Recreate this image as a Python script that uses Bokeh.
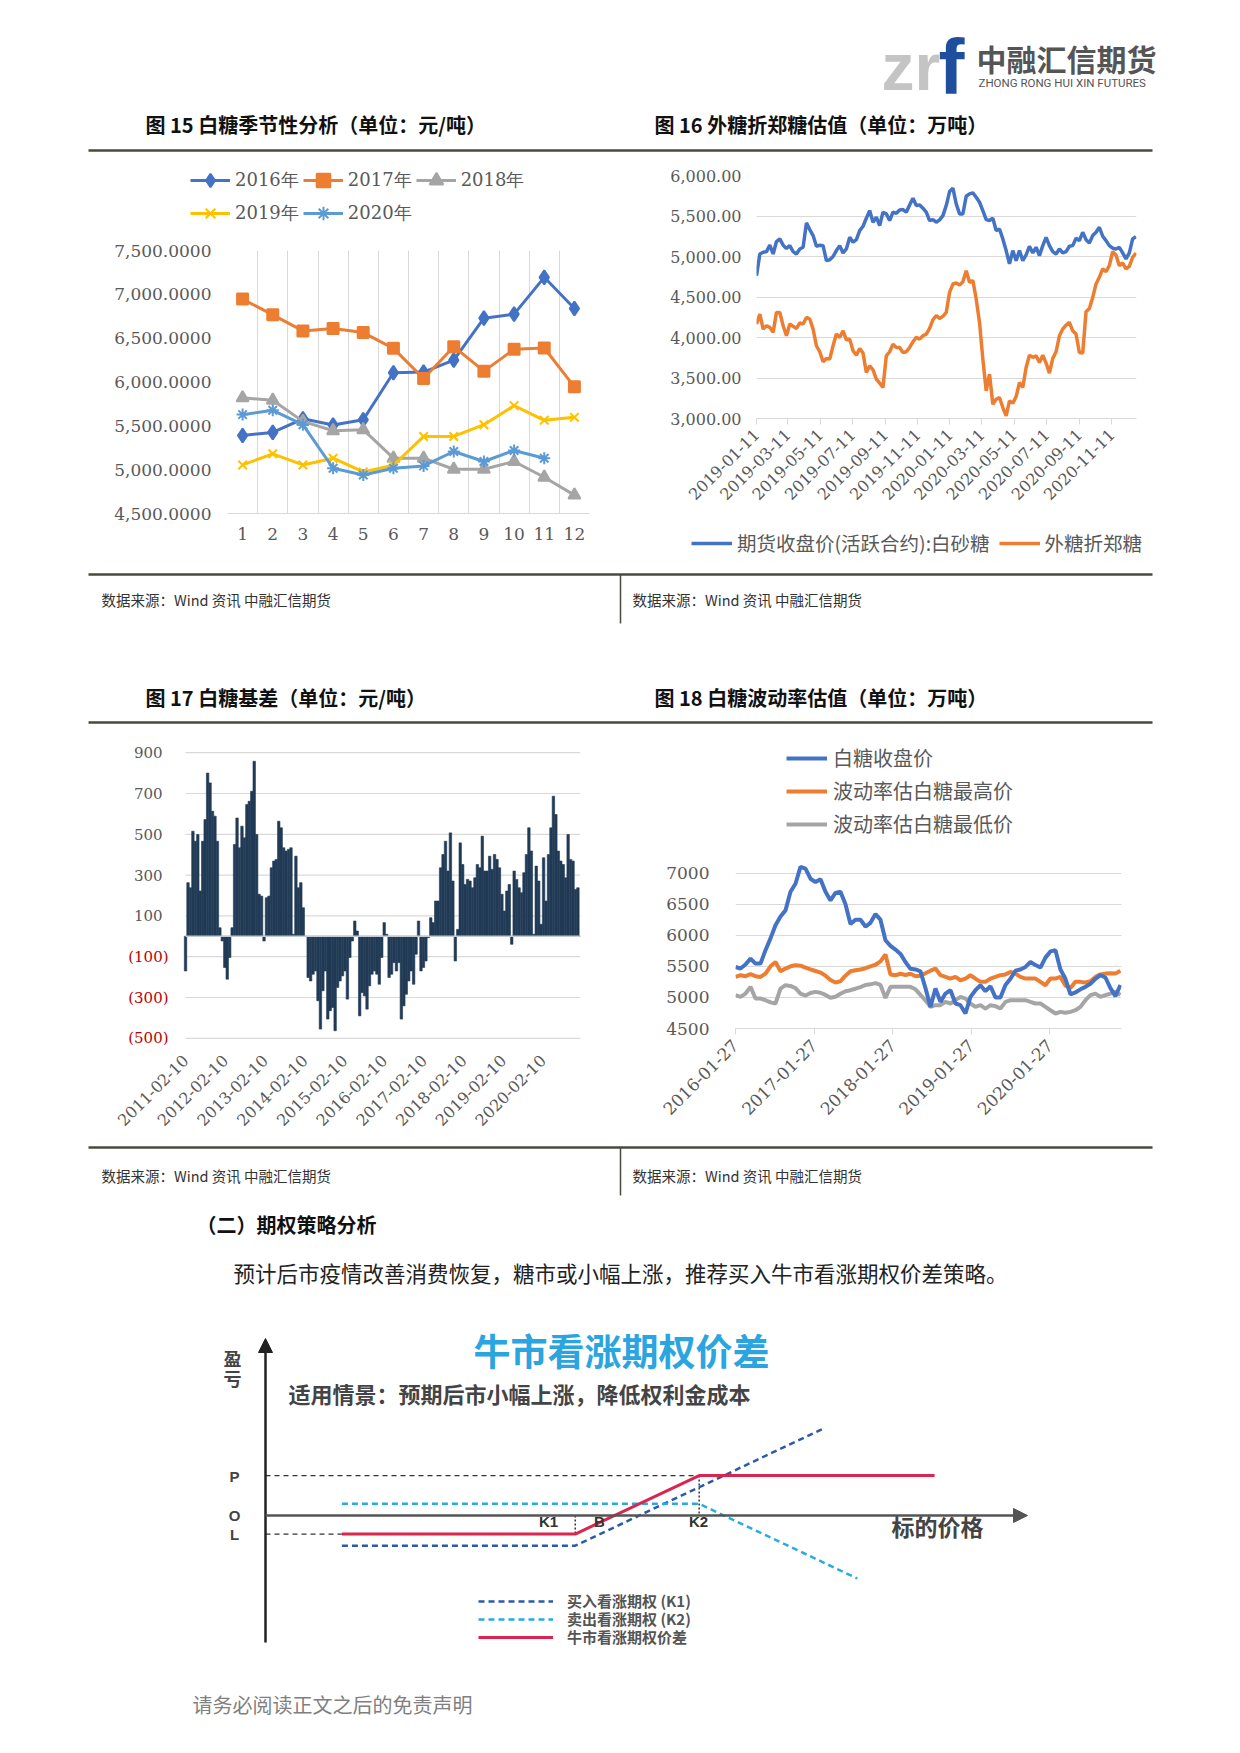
import math
import pandas as pd
from bokeh.plotting import figure
from bokeh.layouts import column, row
from bokeh.models import (Range1d, Label, Legend, LegendItem, FixedTicker,
                          NumeralTickFormatter, DatetimeTickFormatter,
                          Arrow, NormalHead)
from bokeh.core.properties import value
from bokeh.embed import file_html
from bokeh.resources import INLINE

# ---------------- data ----------------
TITLE15 = "图 15  白糖季节性分析（单位：元/吨）"
TITLE16 = "图 16  外糖折郑糖估值（单位：万吨）"
TITLE17 = "图 17  白糖基差（单位：元/吨）"
TITLE18 = "图 18  白糖波动率估值（单位：万吨）"
SOURCE = "数据来源：Wind 资讯  中融汇信期货"

MONTHS = [1, 2, 3, 4, 5, 6, 7, 8, 9, 10, 11, 12]
S2016 = [5390, 5425, 5580, 5510, 5570, 6105, 6113, 6250, 6728, 6774, 7194, 6839]
S2017 = [6946, 6766, 6583, 6610, 6564, 6384, 6040, 6403, 6124, 6373, 6388, 5945]
S2018 = [5819, 5792, 5551, 5444, 5456, 5131, 5131, 5005, 5005, 5093, 4913, 4710]
S2019 = [5054, 5181, 5054, 5131, 4975, 5050, 5379, 5379, 5513, 5731, 5563, 5597]
S2020 = [5628, 5677, 5513, 5016, 4940, 5016, 5043, 5207, 5093, 5219, 5131]
Y15_TICKS = [4500, 5000, 5500, 6000, 6500, 7000, 7500]

D16_FIRST, D16_LAST = "2019-01-11", "2020-12-27"
FUT16 = [4763, 5031, 5052, 5060, 5140, 5031, 5185, 5217, 5140, 5100,
         5134, 5060, 5031, 5093, 5114, 5415, 5332, 5258, 5126, 5140,
         5134, 4949, 4960, 5000, 5073, 5134, 5044, 5093, 5237, 5176,
         5208, 5320, 5373, 5472, 5567, 5423, 5485, 5382, 5547, 5526,
         5444, 5547, 5534, 5575, 5580, 5547, 5637, 5720, 5629, 5637,
         5596, 5547, 5444, 5456, 5423, 5452, 5505, 5629, 5802, 5843,
         5650, 5526, 5526, 5744, 5773, 5786, 5732, 5670, 5567, 5456,
         5444, 5472, 5320, 5340, 5217, 5073, 4908, 5073, 4949, 5073,
         4949, 5019, 5126, 5044, 5114, 5011, 5134, 5237, 5134, 5060,
         5031, 5093, 5044, 5060, 5126, 5134, 5225, 5196, 5299, 5208,
         5167, 5258, 5299, 5361, 5250, 5196, 5134, 5102, 5093, 5114,
         5044, 4970, 5044, 5217, 5246]
IMP16 = [4166, 4290, 4104, 4145, 4125, 4063, 4310, 4310, 4145, 4021,
         4166, 4138, 4112, 4180, 4166, 4248, 4228, 4104, 3898, 3824,
         3700, 3741, 3733, 3898, 4042, 4001, 4083, 3972, 3980, 3836,
         3782, 3865, 3807, 3568, 3650, 3601, 3486, 3436, 3383, 3774,
         3824, 3918, 3877, 3877, 3815, 3824, 3877, 3947, 4001, 3980,
         4021, 4042, 4112, 4219, 4269, 4236, 4261, 4310, 4557, 4660,
         4673, 4648, 4689, 4825, 4681, 4702, 4475, 4186, 3733, 3341,
         3547, 3176, 3238, 3259, 3135, 3032, 3218, 3189, 3271, 3444,
         3383, 3630, 3782, 3754, 3774, 3692, 3782, 3683, 3560, 3741,
         3824, 4021, 4104, 4153, 4186, 4083, 4042, 3815, 3807, 4318,
         4359, 4495, 4660, 4743, 4846, 4813, 4887, 5060, 5019, 4887,
         4920, 4846, 4879, 4990, 5044]
TICKS16 = ["2019-01-11", "2019-03-11", "2019-05-11", "2019-07-11", "2019-09-11",
           "2019-11-11", "2020-01-11", "2020-03-11", "2020-05-11", "2020-07-11",
           "2020-09-11", "2020-11-11"]
Y16_TICKS = [3000, 3500, 4000, 4500, 5000, 5500, 6000]
LEG16 = ["期货收盘价(活跃合约):白砂糖", "外糖折郑糖"]

D17_FIRST, D17_LAST = "2011-02-10", "2021-01-19"
BASIS17 = [-170, 263, 238, 515, 466, 499, 222, 466, 572, 800,
           752, 613, 589, 466, 42, -23, -153, -210, -104, 42,
           450, 580, 434, 540, 483, 646, 662, 711, 858, 499,
           206, 197, -23, 189, 197, 336, 369, 377, 564, 532,
           434, 418, 426, 434, 10, 393, 238, 263, 140, 0,
           -202, -219, -186, -170, -316, -455, -267, -170, -406, -365,
           -349, -463, -251, -219, -194, -170, -308, -104, -23, 75,
           26, -390, -276, -292, -357, -243, -186, -170, -186, -235,
           -104, 67, 10, -202, -186, -129, -170, -129, -406, -341,
           -284, -219, -170, -235, -88, 75, -170, -153, -121, -7,
           91, 67, 173, 173, 336, 401, 466, 320, 507, 271,
           -121, 34, 458, 352, 254, 279, 271, 238, 287, 352,
           336, 491, 320, 320, 393, 328, 401, 377, 336, 206,
           124, 222, 254, -39, 320, 279, 238, 214, 312, 401,
           532, 418, 10, 344, 271, 59, 385, 173, 401, 532,
           687, 597, 418, 369, 352, 287, 499, 377, 369, 230,
           238, 0]
TICKS17 = ["2011-02-10", "2012-02-10", "2013-02-10", "2014-02-10", "2015-02-10",
           "2016-02-10", "2017-02-10", "2018-02-10", "2019-02-10", "2020-02-10"]
Y17_TICKS = [-500, -300, -100, 100, 300, 500, 700, 900]

D18_FIRST, D18_LAST = "2016-01-27", "2020-12-20"
CLOSE18 = [5490, 5464, 5530, 5624, 5544, 5544, 5760, 5950, 6160, 6300,
           6400, 6700, 6829, 7100, 7070, 6909, 6855, 6900, 6700, 6560,
           6680, 6700, 6500, 6180, 6250, 6250, 6140, 6200, 6340, 6250,
           5920, 5830, 5770, 5700, 5570, 5460, 5450, 5420, 5150, 4848,
           5143, 4928, 5062, 5116, 4902, 4875, 4741, 5009, 5116, 5196,
           5100, 5180, 5000, 5000, 5200, 5300, 5430, 5450, 5490, 5570,
           5520, 5480, 5640, 5740, 5760, 5450, 5300, 5050, 5080, 5130,
           5170, 5220, 5300, 5357, 5320, 5150, 5020, 5200]
HIGH18 = [5330, 5357, 5341, 5373, 5341, 5330, 5383, 5500, 5571, 5420,
          5464, 5500, 5517, 5510, 5480, 5450, 5425, 5400, 5350, 5280,
          5240, 5260, 5350, 5420, 5437, 5450, 5470, 5500, 5525, 5580,
          5690, 5370, 5357, 5380, 5360, 5380, 5340, 5350, 5390, 5430,
          5464, 5357, 5330, 5303, 5330, 5276, 5303, 5357, 5303, 5250,
          5250, 5303, 5330, 5357, 5370, 5410, 5383, 5330, 5303, 5303,
          5303, 5250, 5196, 5303, 5303, 5330, 5190, 5150, 5250, 5250,
          5240, 5260, 5330, 5370, 5383, 5390, 5383, 5430]
LOW18 = [5036, 5009, 5062, 5170, 4982, 4982, 4955, 4920, 4902, 5140,
         5196, 5185, 5150, 5060, 5030, 5070, 5089, 5075, 5040, 4995,
         5010, 5060, 5100, 5116, 5140, 5165, 5200, 5210, 5230, 5200,
         4990, 5170, 5170, 5170, 5170, 5170, 5130, 5040, 4950, 4850,
         4875, 4875, 4928, 4902, 4955, 5009, 4982, 4902, 4848, 4875,
         4821, 4875, 4860, 4821, 4928, 4955, 4955, 4955, 4955, 4928,
         4902, 4902, 4848, 4794, 4741, 4768, 4752, 4768, 4794, 4848,
         4955, 5036, 5062, 5009, 5036, 5062, 5089, 5040]
TICKS18 = ["2016-01-27", "2017-01-27", "2018-01-27", "2019-01-27", "2020-01-27"]
Y18_TICKS = [4500, 5000, 5500, 6000, 6500, 7000]
LEG18 = ["白糖收盘价", "波动率估白糖最高价", "波动率估白糖最低价"]

# bull call spread diagram (schematic units)
K1, K2 = 7.5, 10.5
BUY_PRICE, BUY_PNL = [1.85, 7.5, 13.5], [-1.55, -1.55, 4.45]
SELL_PRICE, SELL_PNL = [1.85, 10.5, 14.33], [0.6, 0.6, -3.23]
SPREAD_PRICE, SPREAD_PNL = [1.85, 7.5, 10.5, 16.2], [-0.95, -0.95, 2.05, 2.05]
P_LEVEL, L_LEVEL = 2.05, -0.95
LEG_DIAG = ["买入看涨期权 (K1)", "卖出看涨期权 (K2)", "牛市看涨期权价差"]

# ---------------- styles ----------------
CJK = "Noto Sans CJK SC"
NUM = "DejaVu Serif"
TXT = "#595959"
GRID = "#D9D9D9"
RULE = "#4A4A3C"
NAVY = "#213A55"
BLUE, ORANGE, GREY, YELLOW, LBLUE = "#4472C4", "#ED7D31", "#A5A5A5", "#FFC000", "#5B9BD5"


def ms(s):
    return pd.Timestamp(s).value / 1e6


def base_fig(w, h, **kw):
    p = figure(width=w, height=h, toolbar_location=None, output_backend="svg", title=None, **kw)
    p.outline_line_color = None
    p.background_fill_color = "white"
    p.border_fill_color = "white"
    try:
        p.frame_align = False
    except Exception:
        pass
    return p


def deco(x0, x1, y0, y1):
    return base_fig(x1 - x0, y1 - y0, x_range=Range1d(x0, x1), y_range=Range1d(y1, y0),
                    x_axis_type=None, y_axis_type=None, min_border=0)


def legend_fig(w, h, left, top, bottom=0):
    # a strip that only carries a legend; its keys reuse the series (kept out of view)
    return base_fig(w, h, x_range=Range1d(-2, -1), y_range=Range1d(-2, -1),
                    x_axis_type=None, y_axis_type=None, min_border_left=left,
                    min_border_top=top, min_border_bottom=bottom, min_border_right=0)


def txt(p, x, y, s, size, color="#222222", bold=False, font=CJK, align="left",
        baseline="middle", angle=0.0):
    p.add_layout(Label(x=x, y=y, text=s, text_font=font, text_font_size=f"{size}px",
                       text_color=color, text_font_style="bold" if bold else "normal",
                       text_align=align, text_baseline=baseline, angle=angle))


def style_axis(ax, size, font=NUM, standoff=8, line=None, tick_out=0):
    ax.axis_line_color = line
    ax.major_tick_line_color = line if tick_out else None
    ax.major_tick_out = tick_out
    ax.major_tick_in = 0
    ax.minor_tick_line_color = None
    ax.major_label_text_font = font
    ax.major_label_text_font_size = f"{size}px"
    ax.major_label_text_color = TXT
    ax.major_label_standoff = standoff


def make_legend(items, size, font, location, orientation="horizontal", glyph_w=40,
                glyph_h=20, spacing=4, standoff=5):
    lg = Legend(items=items, orientation=orientation, location=location)
    lg.border_line_color = None
    lg.background_fill_alpha = 0
    lg.padding = 0
    lg.margin = 0
    lg.spacing = spacing
    lg.glyph_width = glyph_w
    lg.glyph_height = glyph_h
    lg.label_height = glyph_h
    lg.label_standoff = standoff
    lg.label_text_font = font
    lg.label_text_font_size = f"{size}px"
    lg.label_text_color = TXT
    lg.label_text_baseline = "middle"
    return lg


date_fmt = DatetimeTickFormatter(days="%Y-%m-%d", months="%Y-%m-%d", years="%Y-%m-%d")

# ---------------- header ----------------
hdr = deco(0, 1224, 0, 160)
txt(hdr, 881, 66, "zr", 66, color="#C4C4C4", bold=True, font="Liberation Sans", baseline="alphabetic")
txt(hdr, 938, 66, "f", 78, color="#1F4E9C", bold=True, font="Liberation Sans", baseline="alphabetic")
txt(hdr, 976, 57, "中融汇信期货", 30, color="#555555", bold=True)
txt(hdr, 978, 82, "ZHONG RONG HUI XIN FUTURES", 11.5, color="#555555", font="Roboto")
txt(hdr, 145, 124, TITLE15, 20, color="#111111", bold=True)
txt(hdr, 654, 124, TITLE16, 20, color="#111111", bold=True)
hdr.segment(88, 150, 1152, 150, line_width=2.5, line_color=RULE)

# ---------------- chart 15 ----------------
series15 = [("2016年", S2016, BLUE, "diamond", 14), ("2017年", S2017, ORANGE, "square", 11),
            ("2018年", S2018, GREY, "triangle", 12), ("2019年", S2019, YELLOW, "x", 12),
            ("2020年", S2020, LBLUE, "asterisk", 12)]

l15 = legend_fig(612, 80, left=190, top=3, bottom=10)
p15 = base_fig(612, 330, x_range=Range1d(0.5, 12.5), y_range=Range1d(4500, 7500),
               min_border_left=227, min_border_right=23, min_border_top=10, min_border_bottom=57)
p15.xaxis.ticker = FixedTicker(ticks=MONTHS)
p15.xgrid.ticker = FixedTicker(ticks=[m - 0.5 for m in MONTHS] + [MONTHS[-1] + 0.5])
p15.xgrid.grid_line_color = GRID
p15.ygrid.grid_line_color = None
p15.yaxis.ticker = FixedTicker(ticks=Y15_TICKS)
p15.yaxis.formatter = NumeralTickFormatter(format="0,0.0000")
style_axis(p15.xaxis, 17, standoff=14, line=GRID)
style_axis(p15.yaxis, 17, standoff=16)
items15 = []
for lab, vals, col, mk, sz in series15:
    xs = MONTHS[:len(vals)]
    p15.line(xs, vals, line_color=col, line_width=3)
    p15.scatter(xs, vals, marker=mk, size=sz, fill_color=col, line_color=col, line_width=2)
    kl = l15.line(xs, vals, line_color=col, line_width=3)
    ks = l15.scatter(xs, vals, marker=mk, size=sz, fill_color=col, line_color=col, line_width=2)
    items15.append(LegendItem(label=lab, renderers=[kl, ks]))
l15.add_layout(make_legend(items15[:3], 18, NUM, "top_left", glyph_h=34))
l15.add_layout(make_legend(items15[3:], 18, NUM, "bottom_left", glyph_h=34))

# ---------------- chart 16 ----------------
dates16 = pd.date_range(D16_FIRST, D16_LAST, periods=len(FUT16))
p16 = base_fig(612, 355, x_axis_type="datetime",
               x_range=Range1d(ms(D16_FIRST), ms("2020-12-28")), y_range=Range1d(3000, 6000),
               min_border_left=144, min_border_right=88, min_border_top=15, min_border_bottom=97)
p16.xaxis.ticker = FixedTicker(ticks=[ms(t) for t in TICKS16])
p16.xaxis.formatter = date_fmt
p16.xaxis.major_label_orientation = math.pi / 4
style_axis(p16.xaxis, 16, standoff=7, line=GRID, tick_out=6)
p16.yaxis.ticker = FixedTicker(ticks=Y16_TICKS)
p16.yaxis.formatter = NumeralTickFormatter(format="0,0.00")
style_axis(p16.yaxis, 16, standoff=15)
p16.xgrid.grid_line_color = None
p16.ygrid.grid_line_color = GRID
p16.line(dates16, FUT16, line_color=BLUE, line_width=3.5)
p16.line(dates16, IMP16, line_color=ORANGE, line_width=3.5)

l16 = legend_fig(612, 55, left=79, top=13)
k16a = l16.line(dates16, FUT16, line_color=BLUE, line_width=3.5)
k16b = l16.line(dates16, IMP16, line_color=ORANGE, line_width=3.5)
l16.add_layout(make_legend([LegendItem(label=LEG16[0], renderers=[k16a]),
                            LegendItem(label=LEG16[1], renderers=[k16b])],
                           19.5, CJK, "top_left", glyph_w=41, spacing=9))

# ---------------- middle band ----------------
mid = deco(0, 1224, 570, 728)
mid.segment(88, 574, 1152, 574, line_width=2.5, line_color=RULE)
mid.segment(620, 574, 620, 623, line_width=1.5, line_color=RULE)
txt(mid, 101, 599, SOURCE, 14.5, color="#333333")
txt(mid, 632, 599, SOURCE, 14.5, color="#333333")
txt(mid, 145, 697, TITLE17, 20, color="#111111", bold=True)
txt(mid, 654, 697, TITLE18, 20, color="#111111", bold=True)
mid.segment(88, 722, 1152, 722, line_width=2.5, line_color=RULE)

# ---------------- chart 17 ----------------
dates17 = pd.date_range(D17_FIRST, D17_LAST, periods=len(BASIS17))
step17 = (ms(D17_LAST) - ms(D17_FIRST)) / (len(BASIS17) - 1)
END17 = ms("2021-01-20")
DATA_PX17, PAD_PX17 = 394.7, 75.0          # frame width of the data part, room for labels
px_ms17 = (END17 - ms(D17_FIRST)) / DATA_PX17
p17 = base_fig(612, 415, x_axis_type="datetime",
               x_range=Range1d(ms(D17_FIRST) - PAD_PX17 * px_ms17, END17),
               y_range=Range1d(-550, 950),
               min_border_left=110, min_border_right=32, min_border_top=14, min_border_bottom=95)
n17 = len(Y17_TICKS)
p17.segment(x0=[ms(D17_FIRST)] * n17, y0=Y17_TICKS, x1=[END17] * n17, y1=Y17_TICKS,
            line_color=GRID, line_width=1.2)
p17.vbar(x=dates17, top=BASIS17, bottom=0, width=step17, fill_color=NAVY,
         line_color=NAVY, line_width=0.6)
p17.segment(x0=[ms(D17_FIRST)], y0=[0], x1=[END17], y1=[0], line_color="#C3CAD2", line_width=1.5)
lab17 = [f"({abs(v)})" if v < 0 else str(v) for v in Y17_TICKS]
col17 = ["#C00000" if v < 0 else TXT for v in Y17_TICKS]
off17 = [-17 if v < 0 else -23 for v in Y17_TICKS]
p17.text(x=[ms(D17_FIRST)] * n17, y=Y17_TICKS, text=lab17, text_color=col17, x_offset=off17,
         text_align="right", text_baseline="middle", text_font=value(NUM),
         text_font_size=value("15px"))
p17.yaxis.visible = False
p17.xaxis.ticker = FixedTicker(ticks=[ms(t) for t in TICKS17])
p17.xaxis.formatter = date_fmt
p17.xaxis.major_label_orientation = math.pi / 4
style_axis(p17.xaxis, 16, standoff=9)
p17.xgrid.grid_line_color = None
p17.ygrid.grid_line_color = None

# ---------------- chart 18 ----------------
dates18 = pd.date_range(D18_FIRST, D18_LAST, periods=len(CLOSE18))
l18 = legend_fig(612, 130, left=174, top=15)
k18a = l18.line(dates18, CLOSE18, line_color=BLUE, line_width=4)
k18b = l18.line(dates18, HIGH18, line_color=ORANGE, line_width=4)
k18c = l18.line(dates18, LOW18, line_color=GREY, line_width=4)
l18.add_layout(make_legend([LegendItem(label=LEG18[0], renderers=[k18a]),
                            LegendItem(label=LEG18[1], renderers=[k18b]),
                            LegendItem(label=LEG18[2], renderers=[k18c])],
                           20, CJK, "top_left", orientation="vertical", glyph_w=41,
                           glyph_h=24, spacing=4, standoff=6))

p18 = base_fig(612, 285, x_axis_type="datetime",
               x_range=Range1d(ms(D18_FIRST), ms("2020-12-25")), y_range=Range1d(4500, 7170),
               min_border_left=123, min_border_right=103, min_border_top=4, min_border_bottom=115)
p18.line(dates18, LOW18, line_color=GREY, line_width=4)
p18.line(dates18, HIGH18, line_color=ORANGE, line_width=4)
p18.line(dates18, CLOSE18, line_color=BLUE, line_width=4)
p18.xaxis.ticker = FixedTicker(ticks=[ms(t) for t in TICKS18])
p18.xaxis.formatter = date_fmt
p18.xaxis.major_label_orientation = math.pi / 4
style_axis(p18.xaxis, 17, standoff=8, line=GRID, tick_out=6)
p18.yaxis.ticker = FixedTicker(ticks=Y18_TICKS)
style_axis(p18.yaxis, 17, standoff=26)
p18.xgrid.grid_line_color = None
p18.ygrid.grid_line_color = GRID

# ---------------- text band ----------------
band = deco(0, 1224, 1143, 1320)
band.segment(88, 1147, 1152, 1147, line_width=2.5, line_color=RULE)
band.segment(620, 1147, 620, 1195, line_width=1.5, line_color=RULE)
txt(band, 101, 1175, SOURCE, 14.5, color="#333333")
txt(band, 632, 1175, SOURCE, 14.5, color="#333333")
txt(band, 196, 1224, "（二）期权策略分析", 20, color="#111111", bold=True)
txt(band, 233, 1272, "预计后市疫情改善消费恢复，糖市或小幅上涨，推荐买入牛市看涨期权价差策略。",
    21.5, color="#222222")

# ---------------- diagram ----------------
dg = deco(0, 1224, 1320, 1665)
dg.extra_x_ranges = {"price": Range1d(-6.4165, 23.22)}
dg.extra_y_ranges = {"pnl": Range1d(-7.6923, 10.0)}
kw = dict(x_range_name="price", y_range_name="pnl")
dg.add_layout(Arrow(end=NormalHead(size=14, fill_color="#222222", line_color="#222222"),
                    x_start=265, y_start=1642, x_end=265, y_end=1338,
                    line_color="#222222", line_width=2.5))
dg.add_layout(Arrow(end=NormalHead(size=14, fill_color="#555555", line_color="#555555"),
                    x_start=265, y_start=1515, x_end=1027, y_end=1515,
                    line_color="#555555", line_width=2.5))
dg.line([0, K2], [P_LEVEL, P_LEVEL], line_color="#333333", line_width=1.3, line_dash="5 4", **kw)
dg.line([0, SPREAD_PRICE[0]], [L_LEVEL, L_LEVEL], line_color="#333333", line_width=1.3,
        line_dash="5 4", **kw)
dg.line([K1, K1], [0, L_LEVEL], line_color="#333333", line_width=1.5, line_dash="2 2", **kw)
dg.line([K2, K2], [P_LEVEL, 0], line_color="#333333", line_width=1.5, line_dash="2 2", **kw)
r_buy = dg.line(BUY_PRICE, BUY_PNL, line_color="#2B5BA8", line_width=2.5, line_dash="6 4", **kw)
r_sell = dg.line(SELL_PRICE, SELL_PNL, line_color="#29ABE2", line_width=2.5, line_dash="6 4", **kw)
r_spr = dg.line(SPREAD_PRICE, SPREAD_PNL, line_color="#D9254F", line_width=3, **kw)
txt(dg, 621, 1349, "牛市看涨期权价差", 37, color="#2AA5DF", bold=True, align="center")
txt(dg, 232, 1357, "盈", 18, color="#444444", bold=True, align="center")
txt(dg, 232, 1377, "亏", 18, color="#444444", bold=True, align="center")
txt(dg, 288, 1392, "适用情景：预期后市小幅上涨，降低权利金成本", 22, color="#444444", bold=True)
for lab, yy in (("P", 1476), ("O", 1515), ("L", 1534)):
    txt(dg, 234, yy, lab, 15, color="#444444", bold=True, font="Liberation Sans", align="center")
txt(dg, 548, 1521, "K1", 15, color="#333333", bold=True, font="Liberation Sans", align="center")
txt(dg, 599, 1521, "B", 15, color="#333333", bold=True, font="Liberation Sans", align="center")
txt(dg, 698, 1521, "K2", 15, color="#333333", bold=True, font="Liberation Sans", align="center")
txt(dg, 891, 1525, "标的价格", 23, color="#444444", bold=True)
for lab, rend, yloc in ((LEG_DIAG[0], r_buy, 54), (LEG_DIAG[1], r_sell, 36), (LEG_DIAG[2], r_spr, 18)):
    lgd = make_legend([LegendItem(label=lab, renderers=[rend])], 15, CJK, (478, yloc),
                      orientation="vertical", glyph_w=75, glyph_h=18, spacing=0, standoff=14)
    lgd.label_text_font_style = "bold"
    lgd.label_text_color = "#555555"
    dg.add_layout(lgd)

# ---------------- footer ----------------
foot = deco(0, 1224, 1665, 1745)
txt(foot, 192, 1704, "请务必阅读正文之后的免责声明", 20, color="#7F7F7F")

page = column(hdr,
              row(column(l15, p15), column(p16, l16)),
              mid,
              row(p17, column(l18, p18)),
              band, dg, foot)
open("out.html", "w").write(file_html(page, INLINE))
